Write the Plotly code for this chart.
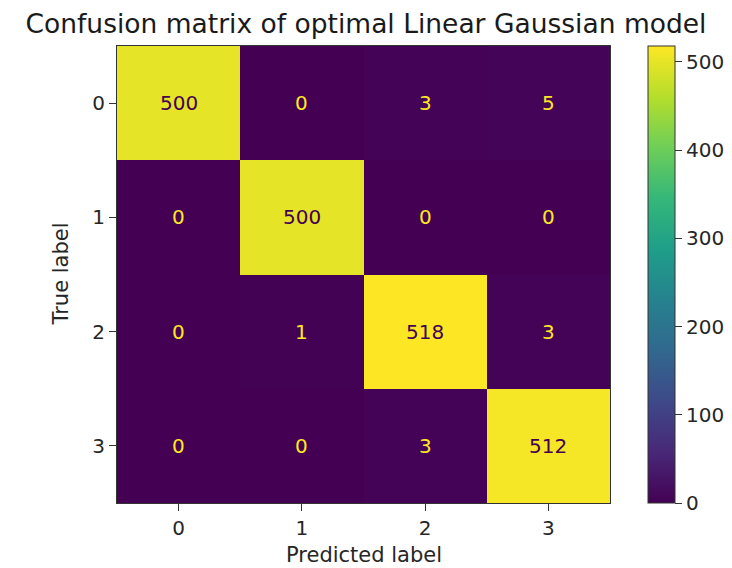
import plotly.graph_objects as go

pred_labels = ["0", "1", "2", "3"]
true_labels = ["0", "1", "2", "3"]
counts = [
    [500, 0, 3, 5],
    [0, 500, 0, 0],
    [0, 1, 518, 3],
    [0, 0, 3, 512],
]
cbar_ticks = [0, 100, 200, 300, 400, 500]

zmax = max(max(r) for r in counts)
zmin = min(min(r) for r in counts)
thresh = (zmax + zmin) / 2

FONT = "DejaVu Sans"
TXT = "#262626"

# page body has an 8px margin, so the figure is shrunk by 8px on the left/top
W, H = 724, 560

fig = go.Figure()
fig.add_trace(go.Heatmap(
    z=counts, x=pred_labels, y=true_labels,
    colorscale="Viridis", zmin=zmin, zmax=zmax,
    showscale=True,
    colorbar=dict(
        x=1.077, xanchor="left", xref="paper", xpad=0, ypad=0,
        y=0.5, yanchor="middle", len=1.0, lenmode="fraction",
        thickness=27, thicknessmode="pixels",
        outlinecolor="#333333", outlinewidth=1,
        tickvals=cbar_ticks, ticks="outside", ticklen=7, tickcolor="#333333",
        tickfont=dict(family=FONT, size=20, color=TXT),
    ),
    hoverinfo="skip",
))

for i, row in enumerate(counts):
    for j, v in enumerate(row):
        fig.add_annotation(
            x=pred_labels[j], y=true_labels[i], text=str(v), showarrow=False,
            font=dict(family=FONT, size=20,
                      color="#440154" if v > thresh else "#fde725"),
        )

fig.add_annotation(x=0.5, y=0, xref="paper", yref="paper", text="Predicted label",
                   showarrow=False, xanchor="center", yanchor="middle", yshift=-52,
                   font=dict(family=FONT, size=21, color=TXT))
fig.add_annotation(x=0, y=0.5, xref="paper", yref="paper", text="True label",
                   showarrow=False, xanchor="center", yanchor="middle", xshift=-57,
                   textangle=-90, font=dict(family=FONT, size=21, color=TXT))

fig.update_layout(
    width=W, height=H,
    paper_bgcolor="white", plot_bgcolor="white",
    margin=dict(l=109, r=122, t=38, b=65, autoexpand=False),
    title=dict(text="Confusion matrix of optimal Linear Gaussian model",
               x=358 / W, xanchor="center", xref="container",
               y=1 - 16 / H, yref="container", yanchor="middle",
               font=dict(family=FONT, size=26.5, color="#1a1a1a")),
    xaxis=dict(ticks="outside", ticklen=7, tickcolor="#333333",
               tickfont=dict(family=FONT, size=20, color=TXT),
               showline=True, mirror=True, linecolor="#333333", linewidth=1,
               showgrid=False, zeroline=False, automargin=False),
    yaxis=dict(autorange="reversed",
               ticks="outside", ticklen=7, tickcolor="#333333",
               tickfont=dict(family=FONT, size=20, color=TXT),
               showline=True, mirror=True, linecolor="#333333", linewidth=1,
               showgrid=False, zeroline=False, automargin=False),
)

fig.write_html("out.html")
